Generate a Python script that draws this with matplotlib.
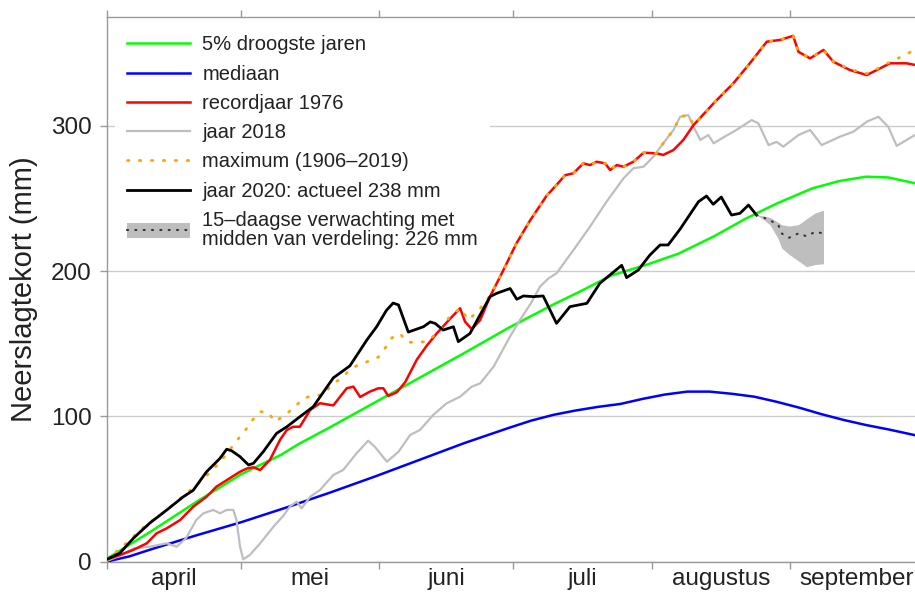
import matplotlib
matplotlib.use('Agg')
import matplotlib.pyplot as plt
from matplotlib.patches import Patch
from matplotlib.lines import Line2D

plt.rcParams['font.family'] = ['Liberation Sans', 'DejaVu Sans']

# ---------------- data (day 0 = 1 April) ----------------
month_starts = [0, 30, 61, 91, 122, 153, 183]
month_names = ['april', 'mei', 'juni', 'juli', 'augustus', 'september']
y_ticks = [0, 100, 200, 300]

green_days = [0, 10, 20, 30, 39, 43, 50, 60, 70, 80, 90, 95, 100, 106, 113, 121, 128,
              136, 143, 150, 158, 164, 170, 175, 181]
green_vals = [2, 21, 41, 60, 73.5, 81, 92.5, 109.5, 126.5, 143.5, 161, 169, 177, 186, 197,
              204.5, 212, 224, 236, 246.5, 257, 262, 265, 264.5, 260.5]

blue_days = [0, 5, 10, 20, 30, 40, 50, 60, 70, 80, 90, 95, 100, 105, 110, 115, 120, 125,
             130, 135, 140, 145, 150, 155, 160, 165, 170, 175, 181]
blue_vals = [0, 3.5, 8.5, 18, 27, 37, 47.5, 58.5, 70, 81.5, 92, 97, 101, 104, 106.5, 108.5,
             112, 115, 117, 117, 115.5, 113.5, 110, 106, 101.5, 97.5, 94, 91, 87]

grey_days = [0, 3, 5.9, 9.6, 13.4, 15.6, 17.7, 20, 21.6, 23.8, 25.3, 26.8, 28.3, 29, 29.8,
             30.5, 32, 34.3, 37.3, 39.5, 41, 42.5, 43.6, 45.5, 47.7, 50.7, 52.9, 55.9, 58.5,
             60, 62.7, 65.3, 67.9, 70.1, 73.1, 76.1, 79.1, 81.7, 83.6, 86.6, 90.3, 92.5, 95,
             97, 98.9, 100.7, 104.5, 108.2, 111.9, 115.7, 117.9, 120.2, 122.4, 124.6, 126.9,
             128.4, 130.2, 131.4, 132.9, 134.7, 135.9, 137.7, 141, 144.4, 145.9, 148.2, 150,
             151.5, 154.9, 157.5, 160.1, 164.2, 167.2, 170.2, 172.8, 175, 176.9, 179.1, 181]
grey_vals = [0.5, 4, 9, 10.2, 12.5, 10.2, 16, 28.6, 33.2, 35.5, 33.2, 35.5, 35.5, 28.6, 10.2,
             1.5, 4.5, 12.5, 24, 31.5, 38, 41.2, 36.6, 44.6, 49.2, 59.6, 63, 74.5, 83.2,
             79, 68.7, 75.6, 87.1, 90.6, 101, 109, 113.5, 120.4, 122.7, 134.2, 155, 166.3, 178,
             189.3, 195, 198.5, 214.5, 230.6, 247.8, 263.9, 270.8, 271.9, 278.8, 288, 297.2,
             306.3, 307.5, 299.4, 290.3, 293.7, 288, 291.4, 297.2, 304, 301.8, 286.8, 289,
             285.7, 293.7, 297.2, 286.8, 292.6, 296, 302.9, 306.3, 299.4, 286.2, 290.3, 293.7]

red_days = [0, 2.9, 5.9, 8.9, 11.1, 13.4, 16.4, 19.3, 22.3, 24.5, 26.8, 29.8, 31.3, 32.8,
            34.3, 36.5, 38.8, 40.3, 41.7, 43.2, 45.5, 47.7, 50.7, 53.7, 55.2, 56.7, 58.9,
            60.8, 61.9, 63, 64.9, 66.8, 69.4, 71.6, 73.9, 76.8, 79.1, 80.2, 81.7, 83.6, 85.8,
            88.8, 91.7, 94.8, 98.5, 100.7, 102.6, 104.5, 106.7, 108.2, 109.7, 111.6, 112.7,
            114.2, 115.7, 117.9, 120.2, 123.1, 124.6, 126.9, 129.1, 131.4, 135.9, 140.3, 144,
            147.8, 150.8, 153.7, 154.9, 157.5, 160.5, 162.7, 166.4, 170.2, 175.4, 179.1, 181]
red_vals = [1.5, 4.5, 8, 12.5, 19.4, 22.9, 28.6, 37.7, 44.6, 51.5, 56, 61.8, 64, 64.9,
            63, 70, 84, 90.6, 92.8, 92.8, 104.3, 109, 107.5, 119.3, 120.4, 113.3, 117,
            119.3, 119.3, 114, 116.5, 123.5, 139, 148.5, 157.2, 167, 174.4, 165.2, 160, 166.3,
            182.4, 200.7, 219, 235, 252, 259.3, 266, 267.4, 274.2, 273, 275.3, 274.2, 269.6,
            273, 271.9, 275.3, 281.5, 281.1, 280, 283.4, 290.3, 300.6, 315.6, 329.3, 343.1,
            358, 359.2, 362, 351, 346.5, 352.3, 344.2, 338.5, 335, 343.1, 343.1, 342]

max_days = [0, 2.9, 5.2, 7, 9.3, 13.4, 17, 20.1, 22, 23.8, 25.7, 27.4, 29, 30.9, 32.4, 34.3,
            36.1, 37.6, 39.9, 42.1, 44, 46, 48.5, 50.3, 52.6, 54.4, 56.3, 58.5, 60.8, 62.3,
            63.8, 65.6, 67.3, 69.4, 71.6, 73.9, 76.8, 79.1, 81, 83.3, 85.8, 88.8, 91.7, 94.8,
            98.5, 100.7, 102.6, 104.5, 106.7, 108.2, 109.7, 111.6, 112.7, 114.2, 115.7, 117.9,
            120.2, 123.1, 124.6, 126.9, 128.4, 130.2, 131.4, 135.9, 140.3, 144, 147.8, 150.8,
            153.7, 154.9, 157.5, 160.5, 162.7, 166.4, 170.2, 173, 175.4, 177.5, 179.5, 181]
max_vals = [1, 9, 14.8, 20.5, 26.3, 35.5, 45, 52.7, 58.4, 63.5, 70, 76.5, 83, 90, 96.8, 103.2,
            102.8, 96.3, 100.9, 106.6, 112.5, 114, 115, 121.6, 126.5, 132, 135.5, 137.8, 140.8,
            147, 154, 157, 151, 151, 151.4, 157.2, 168.6, 174.4, 166.3, 173.2, 183, 200.7, 219,
            235, 252, 259.3, 266, 267.4, 274.2, 273, 275.3, 274.2, 270, 273, 272, 275.3,
            281.5, 281.1, 288, 297.2, 306.3, 307.5, 300.6, 315.6, 329.3, 343.1, 358, 359.2,
            362, 351, 346.5, 352.3, 344.5, 339, 336, 340, 344, 347, 350, 353]

y2020_days = [0, 2.9, 5.9, 9.6, 13.4, 17.1, 19.3, 22.3, 25.3, 26.8, 27.9, 29.8, 31.7, 32.8,
              35, 38, 40.3, 43.2, 46.2, 50.7, 54.4, 58.2, 60.4, 62.6, 64.1, 65.3, 67.5, 70.9,
              72.4, 73.5, 75.3, 77.6, 78.7, 81.3, 85.8, 87.3, 90.3, 91.8, 93.3, 95.5, 97.7,
              100.7, 103.7, 107.5, 110.4, 115.3, 116.4, 119, 121.6, 123.9, 125.7, 128.4, 132.5,
              134.3, 135.8, 137.6, 139.9, 141.8, 143.7, 145.5]
y2020_vals = [1.5, 5.8, 16, 26.5, 35.5, 44.6, 49, 61.8, 71, 77.3, 76.3, 72.2, 66.5, 67.6,
              75.6, 88.3, 92.8, 99.7, 106.6, 126.5, 134.7, 152.5, 161.7, 173, 178, 176.7, 158,
              161.7, 165, 164, 159.4, 161.7, 151.4, 157, 182.4, 184.7, 188, 180.6, 182.9, 182.4,
              182.9, 164, 175.5, 177.8, 191.6, 204, 195.5, 200.7, 211, 218, 218, 229, 247.8,
              251.7, 246, 251, 238.6, 239.8, 245.5, 238.6]

fc_days = [145.5, 146.6, 148.5, 150.4, 151.1, 152.8, 154.9, 156.7, 158.6, 160.5]
fc_mid = [238.6, 237.5, 235, 231.7, 226, 223, 226, 224, 227, 226]
fc_low = [238.6, 236.5, 232, 222, 216, 211.5, 207, 203, 204.5, 205]
fc_high = [238.6, 238.3, 237, 233.5, 232, 231, 232, 236, 240, 242]

# ---------------- figure ----------------
fig = plt.figure(figsize=(9.15, 6.02), dpi=100)
ax = fig.add_axes([107 / 915, 40.5 / 602, 808 / 915, 544.8 / 602])

band = ax.fill_between(fc_days, fc_low, fc_high, color='#BEBEBE', linewidth=0, zorder=2)
l_green, = ax.plot(green_days, green_vals, color='#00FF00', lw=1.8, zorder=3)
l_blue, = ax.plot(blue_days, blue_vals, color='#0000FF', lw=1.8, zorder=3)
l_grey, = ax.plot(grey_days, grey_vals, color='#BEBEBE', lw=1.6, zorder=3)
l_red, = ax.plot(red_days, red_vals, color='#FF0000', lw=1.8, zorder=4)
l_max, = ax.plot(max_days, max_vals, color='#FFA500', lw=2.0,
                 linestyle=(0, (0.5, 3.8)), dash_capstyle='round', zorder=5)
l_2020, = ax.plot(y2020_days, y2020_vals, color='black', lw=2.0, zorder=6)
l_fc, = ax.plot(fc_days, fc_mid, color='#333333', lw=1.5,
                linestyle=(0, (0.5, 3.5)), dash_capstyle='round', zorder=6)

ax.set_xlim(0, 181)
ax.set_ylim(0, 375.2)

# axes styling
spine_col = '#999999'
for s in ['left', 'top', 'bottom']:
    ax.spines[s].set_color(spine_col)
    ax.spines[s].set_linewidth(1.0)
ax.spines['right'].set_visible(False)

ax.set_xticks(month_starts[:-1])
ax.set_xticklabels([''] * (len(month_starts) - 1))
centers = [(month_starts[i] + month_starts[i + 1]) / 2 for i in range(len(month_names))]
ax.set_xticks(centers, minor=True)
ax.set_xticklabels(month_names, minor=True, fontsize=17.5, color='#222222')
ax.tick_params(axis='x', which='major', top=True, bottom=True, direction='out',
               length=4.8, width=1, color=spine_col)
ax.tick_params(axis='x', which='minor', length=0, pad=5, top=False)

ax.set_yticks(y_ticks)
ax.set_yticklabels([str(v) for v in y_ticks], fontsize=17.5, color='#222222')
ax.tick_params(axis='y', which='major', left=True, right=False, direction='out',
               length=4.8, width=1, color=spine_col, pad=6.2)

ax.yaxis.grid(True, color='#CCCCCC', lw=1.0)
ax.xaxis.grid(False)
ax.set_axisbelow(True)

ax.set_ylabel('Neerslagtekort (mm)', fontsize=21, color='#222222')
ax.yaxis.set_label_coords(-0.0854, 0.5)

# legend
fc_patch = Patch(facecolor='#BEBEBE', edgecolor='none')
fc_line = Line2D([], [], color='#333333', lw=1.5, linestyle=(0, (0.5, 3.5)),
                 dash_capstyle='round')
handles = [l_green, l_blue, l_red, l_grey, l_max, l_2020, (fc_patch, fc_line)]
labels = ['5% droogste jaren', 'mediaan', 'recordjaar 1976', 'jaar 2018',
          'maximum (1906\u20132019)', 'jaar 2020: actueel 238 mm',
          '15\u2013daagse verwachting met\nmidden van verdeling: 226 mm']
leg = ax.legend(handles, labels, loc='upper left', bbox_to_anchor=(0.0099, 0.9879),
                borderaxespad=0, borderpad=0.6, fontsize=14.5, handlelength=3.13,
                handletextpad=0.6, labelspacing=0.51, frameon=True, fancybox=False,
                framealpha=1, facecolor='white', edgecolor='none')
for t in leg.get_texts():
    t.set_color('#222222')
    t.set_linespacing(1.0)

fig.savefig('out.png', dpi=100)
